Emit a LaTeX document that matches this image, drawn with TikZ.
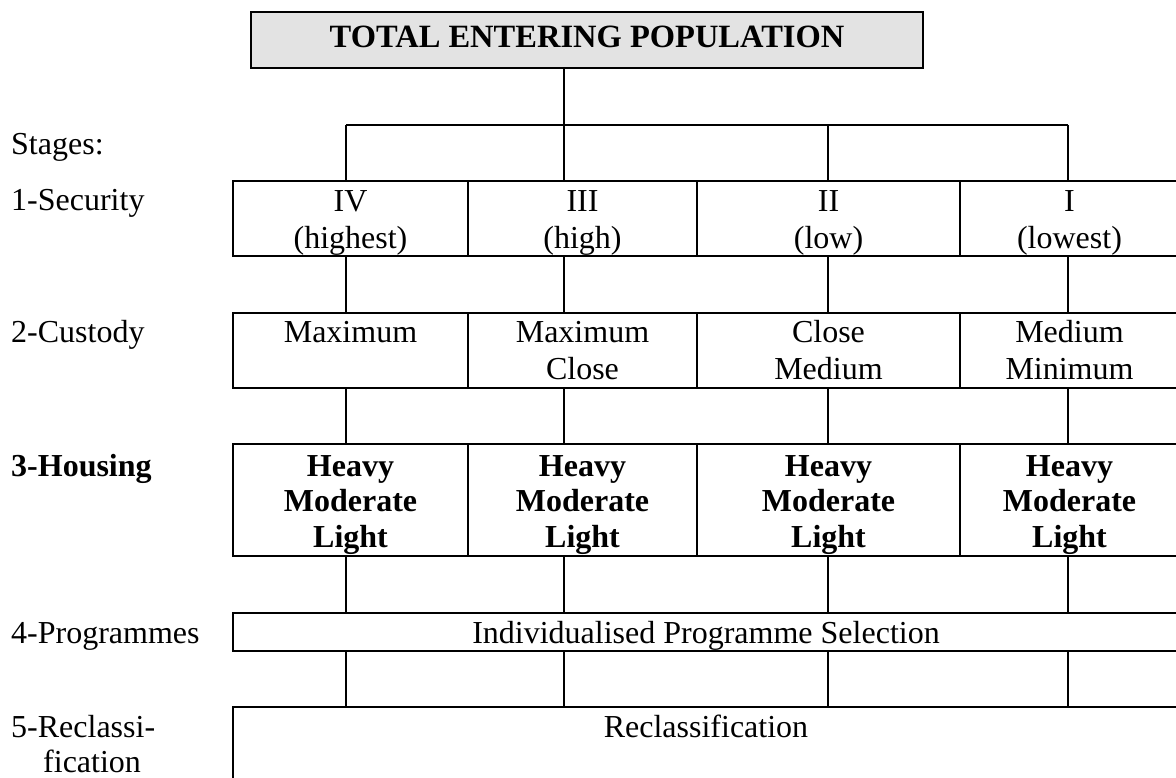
\documentclass[tikz,border=0pt]{standalone}
\usepackage{fontspec}
\setmainfont{Liberation Serif}
\begin{document}
\begin{tikzpicture}[x=1pt,y=-1pt,
  lbl/.style={anchor=base west, inner sep=0, font=\fontsize{32}{37}\selectfont},
  cellbox/.style={draw, line width=2pt, inner sep=0},
  txt/.style={inner sep=0, align=center, anchor=north, font=\fontsize{32}{37}\selectfont},
  btxt/.style={txt, font=\fontsize{32}{35.5}\selectfont\bfseries},
  conn/.style={line width=2pt}]
\useasboundingbox (0,0) rectangle (1176,778);
\clip (0,0) rectangle (1176,778);
% title
\node[cellbox, fill=black!11, minimum width=672, minimum height=56] (title) at (587,40) {};
\node[anchor=base, inner sep=0, font=\fontsize{32.5}{37}\selectfont\bfseries] (titletxt) at (587,48) {TOTAL ENTERING POPULATION};
% column centres on the bar
\coordinate (c1) at (346,125);
\coordinate (c2) at (564,125);
\coordinate (c3) at (828,125);
\coordinate (c4) at (1068,125);
% row labels
\node[lbl] (lstages) at (11,155) {Stages:};
\node[lbl] (lsec) at (11,211) {1-Security};
\node[lbl] (lcus) at (11,342) {2-Custody};
\node[lbl, font=\fontsize{32}{37}\selectfont\bfseries] (lhou) at (11,476) {3-Housing};
\node[lbl] (lprog) at (11,643) {4-Programmes};
\node[lbl] (lrec) at (11,737) {5-Reclassi-};
\node[lbl] (lrec2) at (43,772) {fication};
% security row 181-256
\node[cellbox, minimum width=235, minimum height=75] (s1) at (350.5,218.5) {};
\node[cellbox, minimum width=229, minimum height=75] (s2) at (582.5,218.5) {};
\node[cellbox, minimum width=263, minimum height=75] (s3) at (828.5,218.5) {};
\node[cellbox, minimum width=219, minimum height=75] (s4) at (1069.5,218.5) {};
\node[txt] (ts1) at (350.5,185) {\rule{0pt}{26pt}IV\\(highest)};
\node[txt] (ts2) at (582.5,185) {\rule{0pt}{26pt}III\\(high)};
\node[txt] (ts3) at (828.5,185) {\rule{0pt}{26pt}II\\(low)};
\node[txt] (ts4) at (1069.5,185) {\rule{0pt}{26pt}I\\(lowest)};
% custody row 313-388
\node[cellbox, minimum width=235, minimum height=75] (u1) at (350.5,350.5) {};
\node[cellbox, minimum width=229, minimum height=75] (u2) at (582.5,350.5) {};
\node[cellbox, minimum width=263, minimum height=75] (u3) at (828.5,350.5) {};
\node[cellbox, minimum width=219, minimum height=75] (u4) at (1069.5,350.5) {};
\node[txt] (tu1) at (350.5,316) {\rule{0pt}{26pt}Maximum};
\node[txt] (tu2) at (582.5,316) {\rule{0pt}{26pt}Maximum\\Close};
\node[txt] (tu3) at (828.5,316) {\rule{0pt}{26pt}Close\\Medium};
\node[txt] (tu4) at (1069.5,316) {\rule{0pt}{26pt}Medium\\Minimum};
% housing row 444-556
\node[cellbox, minimum width=235, minimum height=112] (h1) at (350.5,500) {};
\node[cellbox, minimum width=229, minimum height=112] (h2) at (582.5,500) {};
\node[cellbox, minimum width=263, minimum height=112] (h3) at (828.5,500) {};
\node[cellbox, minimum width=219, minimum height=112] (h4) at (1069.5,500) {};
\node[btxt] (th1) at (350.5,450) {\rule{0pt}{26pt}Heavy\\Moderate\\Light};
\node[btxt] (th2) at (582.5,450) {\rule{0pt}{26pt}Heavy\\Moderate\\Light};
\node[btxt] (th3) at (828.5,450) {\rule{0pt}{26pt}Heavy\\Moderate\\Light};
\node[btxt] (th4) at (1069.5,450) {\rule{0pt}{26pt}Heavy\\Moderate\\Light};
% programmes 613-651
\node[cellbox, minimum width=946, minimum height=38] (prog) at (706,632) {};
\node[anchor=base, inner sep=0, font=\fontsize{32}{37}\selectfont] (progtxt) at (706,643) {Individualised Programme Selection};
% reclassification 707-
\node[cellbox, minimum width=946, minimum height=143] (rec) at (706,778.5) {};
\node[anchor=base, inner sep=0, font=\fontsize{32}{37}\selectfont] (rectxt) at (706,737) {Reclassification};
% connectors
\draw[conn] (title.south -| c2) -- (c2);
\draw[conn] (c1) -- (c4);
\foreach \c/\n in {c1/s1, c2/s2, c3/s3, c4/s4} \draw[conn] (\c) -- (\c |- \n.north);
\foreach \c/\a/\b in {c1/s1/u1, c2/s2/u2, c3/s3/u3, c4/s4/u4} \draw[conn] (\c |- \a.south) -- (\c |- \b.north);
\foreach \c/\a/\b in {c1/u1/h1, c2/u2/h2, c3/u3/h3, c4/u4/h4} \draw[conn] (\c |- \a.south) -- (\c |- \b.north);
\foreach \c/\a in {c1/h1, c2/h2, c3/h3, c4/h4} \draw[conn] (\c |- \a.south) -- (\c |- prog.north);
\foreach \c in {c1, c2, c3, c4} \draw[conn] (\c |- prog.south) -- (\c |- rec.north);
\end{tikzpicture}
\end{document}
